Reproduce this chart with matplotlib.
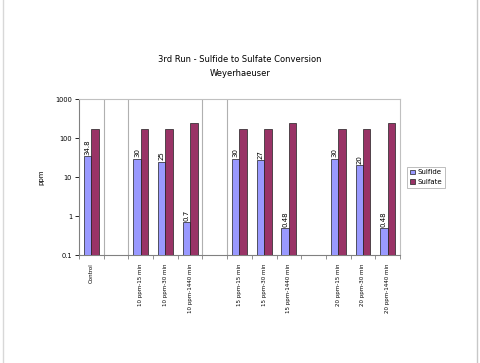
import matplotlib
matplotlib.use("Agg")
import matplotlib.pyplot as plt
from matplotlib.lines import Line2D
import numpy as np

categories = ["Control", "", "10 ppm-15 min", "10 ppm-30 min", "10 ppm-1440 min", "",
              "15 ppm-15 min", "15 ppm-30 min", "15 ppm-1440 min", "",
              "20 ppm-15 min", "20 ppm-30 min", "20 ppm-1440 min"]
sulfide = [34.8, None, 30, 25, 0.7, None, 30, 27, 0.48, None, 30, 20, 0.48]
sulfate = [170, None, 170, 170, 245, None, 170, 170, 245, None, 170, 170, 245]
sulfide_labels = ["34.8", "", "30", "25", "0.7", "", "30", "27", "0.48", "", "30", "20", "0.48"]
grid_lines = [0.5, 1.5, 4.5, 5.5]

fig = plt.figure(figsize=(4.8, 3.63), dpi=100)
ax = fig.add_axes([0.1646, 0.2975, 0.6687, 0.4289])

x = np.arange(len(categories))
w = 0.3
idx = [i for i in x if sulfide[i] is not None]
s1 = [sulfide[i] for i in idx]
s2 = [sulfate[i] for i in idx]
ax.bar(np.array(idx) - w / 2, s1, w, color="#9999FF", edgecolor="#202020", linewidth=0.5, label="Sulfide", zorder=3)
ax.bar(np.array(idx) + w / 2, s2, w, color="#993366", edgecolor="#202020", linewidth=0.5, label="Sulfate", zorder=3)

for i in idx:
    ax.text(i - w / 2, sulfide[i] * 1.08, sulfide_labels[i], rotation=90, ha="center", va="bottom",
            fontsize=5, zorder=4)

ax.set_yscale("log")
ax.set_ylim(0.1, 1000)
ax.set_xlim(-0.5, len(categories) - 0.5)
ax.set_yticks([0.1, 1, 10, 100, 1000])
ax.set_yticklabels(["0.1", "1", "10", "100", "1000"], fontsize=4.8)
ax.yaxis.set_minor_locator(matplotlib.ticker.NullLocator())
ax.tick_params(axis="y", length=3, width=0.6, pad=2)

ax.set_xticks(x)
ax.set_xticklabels(categories, rotation=90, fontsize=4)
ax.tick_params(axis="x", which="major", length=0, pad=6)
ax.set_xticks(np.arange(-0.5, len(categories), 1), minor=True)
ax.tick_params(axis="x", which="minor", length=3, width=0.6, color="#808080")

for g in grid_lines:
    ax.axvline(g, color="#b0b0b0", linewidth=0.8, zorder=1)

for s in ["top", "right"]:
    ax.spines[s].set_color("#c0c0c0")
    ax.spines[s].set_linewidth(0.8)
for s in ["left", "bottom"]:
    ax.spines[s].set_color("#808080")
    ax.spines[s].set_linewidth(0.8)

ax.set_ylabel("ppm", fontsize=5, labelpad=8)

fig.text(0.5, 0.835, "3rd Run - Sulfide to Sulfate Conversion", ha="center", va="center", fontsize=6)
fig.text(0.5, 0.797, "Weyerhaeuser", ha="center", va="center", fontsize=6)

leg = ax.legend(loc="center left", bbox_to_anchor=(1.012, 0.5), fontsize=5, frameon=True,
                fancybox=False, edgecolor="#a0a0a0", handlelength=0.7, handleheight=0.7,
                handletextpad=0.4, borderpad=0.4, labelspacing=0.5)
leg.get_frame().set_linewidth(0.6)

fig.add_artist(Line2D([0.006, 0.006], [0, 1], transform=fig.transFigure, color="#d8d8d8", linewidth=1))
fig.add_artist(Line2D([0.994, 0.994], [0, 1], transform=fig.transFigure, color="#c8c8c8", linewidth=1))

fig.savefig("out.png", dpi=100)
